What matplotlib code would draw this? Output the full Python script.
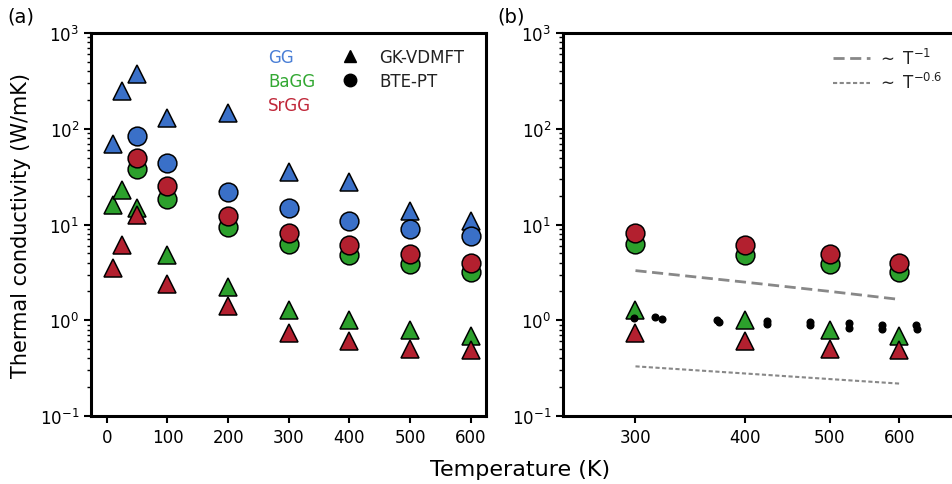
import numpy as np
import matplotlib
matplotlib.use("Agg")
import matplotlib.pyplot as plt
from matplotlib.lines import Line2D
from matplotlib.ticker import NullLocator, FixedLocator, FixedFormatter

# GK-VDMFT (triangles)
T_gk = [10, 25, 50, 100, 200, 300, 400, 500, 600]
gg_gk = [70, 250, 370, 128, 145, 35, 27.5, 14, 10.8]
bagg_gk = [16, 23, 15, 4.8, 2.25, 1.27, 1.0, 0.8, 0.68]
srgg_gk = [3.5, 6.1, 12.5, 2.4, 1.4, 0.73, 0.6, 0.5, 0.49]

# BTE-PT (circles)
T_bte = [50, 100, 200, 300, 400, 500, 600]
gg_bte = [83, 43.5, 22, 15, 11, 8.9, 7.5]
bagg_bte = [38, 18.5, 9.4, 6.2, 4.8, 3.85, 3.2]
srgg_bte = [50, 25, 12.2, 8.2, 6.1, 4.9, 4.0]

# small black points in panel (b)
dot_T = [299, 316, 322, 372, 374, 424, 424, 475, 475, 525, 525, 573, 573, 626, 628]
dot_k = [1.06, 1.08, 1.03, 1.0, 0.95, 0.98, 0.91, 0.96, 0.89, 0.93, 0.84, 0.89, 0.82, 0.89, 0.81]

# guide lines in panel (b)
guide_T = [300, 400, 500, 600]
guide_m1 = [3.3, 2.5, 2.0, 1.65]
guide_m06 = [0.33, 0.278, 0.243, 0.218]

c_gg = '#3a70c8'
c_ba = '#2ca02c'
c_sr = '#b3202f'

plt.rcParams['font.family'] = 'DejaVu Sans'
plt.rcParams['mathtext.fontset'] = 'dejavusans'

fig = plt.figure(figsize=(9.52, 4.85), dpi=100)
axa = fig.add_axes([91/952, 1-417/485, (486-91)/952, (417-34)/485])
axb = fig.add_axes([563/952, 1-417/485, (957-563)/952, (417-34)/485])

ms_c = 13.5
ms_t = 12.5
ew = 1.1

def draw(ax, T1, T2, sl):
    for vals, c in [(bagg_gk, c_ba), (srgg_gk, c_sr), (gg_gk, c_gg)]:
        t = np.array(T1)[sl[0]]
        v = np.array(vals)[sl[0]]
        if c == c_gg and ax is axb:
            continue
        ax.plot(t, v, '^', ms=ms_t, mfc=c, mec='black', mew=ew, ls='none')
    for vals, c in [(bagg_bte, c_ba), (srgg_bte, c_sr), (gg_bte, c_gg)]:
        t = np.array(T2)[sl[1]]
        v = np.array(vals)[sl[1]]
        if c == c_gg and ax is axb:
            continue
        ax.plot(t, v, 'o', ms=ms_c, mfc=c, mec='black', mew=ew, ls='none')

draw(axa, T_gk, T_bte, (slice(None), slice(None)))
draw(axb, T_gk, T_bte, (slice(5, None), slice(3, None)))

axb.plot(guide_T, guide_m1, ls=(0, (4, 2)), color='#888888', lw=2.0, label=r'$\sim$ T$^{-1}$')
axb.plot(guide_T, guide_m06, ls=(0, (2, 1.2)), color='#888888', lw=1.5, label=r'$\sim$ T$^{-0.6}$')
axb.plot(dot_T, dot_k, 'o', ms=4.8, color='black', ls='none')

for ax in (axa, axb):
    ax.set_yscale('log')
    ax.set_ylim(0.1, 1000)
    for s in ax.spines.values():
        s.set_linewidth(2.2)
    ax.tick_params(which='major', direction='out', length=5, width=1.5, labelsize=12)
    ax.tick_params(which='minor', direction='out', length=3, width=1.0)

axa.set_xlim(-26, 625)
axa.set_xticks([0, 100, 200, 300, 400, 500, 600])
axa.xaxis.set_minor_locator(NullLocator())

axb.set_xscale('log')
axb.set_xlim(248, 698)
axb.xaxis.set_major_locator(FixedLocator([300, 400, 500, 600]))
axb.xaxis.set_major_formatter(FixedFormatter(['300', '400', '500', '600']))
axb.xaxis.set_minor_locator(NullLocator())

axa.set_ylabel('Thermal conductivity (W/mK)', fontsize=15, labelpad=6)
fig.text(0.546, 0.03, 'Temperature (K)', fontsize=16, ha='center', va='center')
fig.text(0.008, 0.965, '(a)', fontsize=14, ha='left', va='center')
fig.text(0.522, 0.965, '(b)', fontsize=14, ha='left', va='center')

# legends panel (a)
blank = Line2D([], [], ls='none')
leg1 = axa.legend([blank, blank, blank], ['GG', 'BaGG', 'SrGG'], loc='upper left',
                  bbox_to_anchor=(0.41, 1.0), frameon=False, handlelength=0,
                  handletextpad=0, labelspacing=0.35, fontsize=12,
                  labelcolor=['#4a7fd6', '#33a833', '#c0283a'])
axa.add_artist(leg1)
mk = [Line2D([], [], marker='^', color='black', ls='none', ms=9),
      Line2D([], [], marker='o', color='black', ls='none', ms=9)]
axa.legend(mk, ['GK-VDMFT', 'BTE-PT'], loc='upper left', bbox_to_anchor=(0.587, 1.0),
           frameon=False, handlelength=1.5, handletextpad=1.0, labelspacing=0.35,
           fontsize=12, labelcolor='#222222')

axb.legend(loc='upper right', bbox_to_anchor=(1.0, 1.0), frameon=False, fontsize=12,
           handlelength=2.2, handletextpad=0.4, labelspacing=0.25, labelcolor='#222222')

fig.savefig('out.png', dpi=100)
